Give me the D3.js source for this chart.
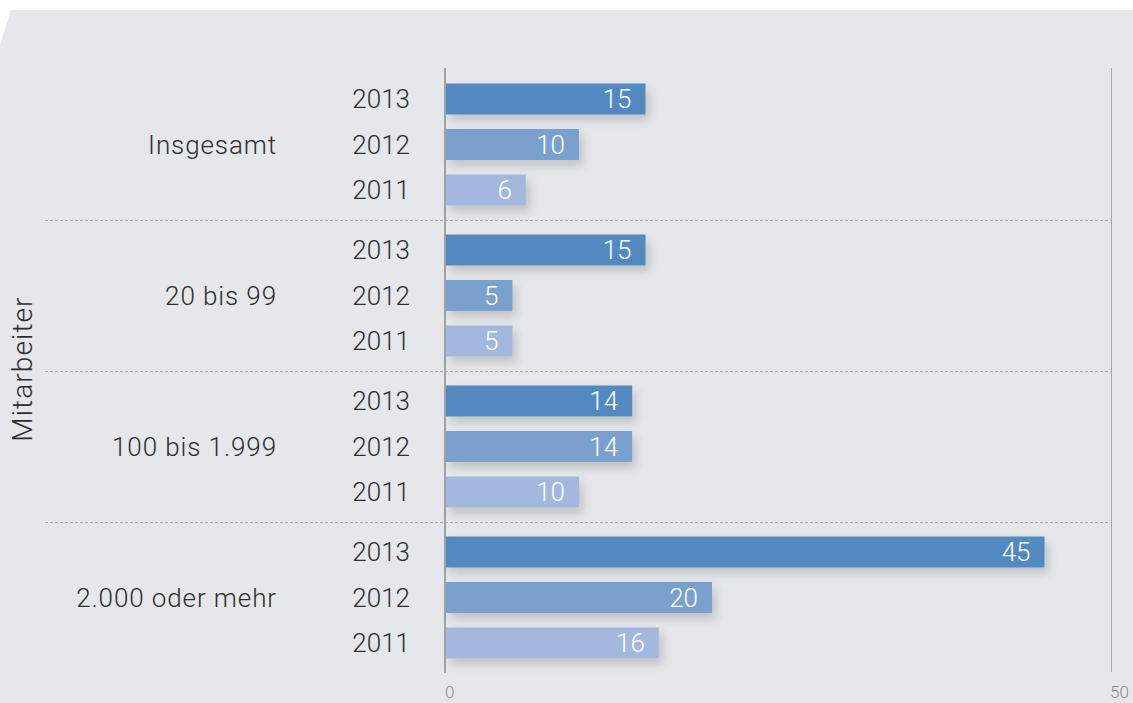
<!DOCTYPE html>
<html><head><meta charset="utf-8">
<script src="https://cdn.jsdelivr.net/npm/d3@7"></script>
<style>
html,body{margin:0;padding:0;background:#fff;}
svg{display:block;font-family:Roboto,"Helvetica Neue",Arial,sans-serif;}
</style></head>
<body>
<svg id="chart" width="1133" height="703"></svg>
<script>
const groups = ["Insgesamt", "20 bis 99", "100 bis 1.999", "2.000 oder mehr"];
const years = ["2013", "2012", "2011"];
const values2013 = [15, 15, 14, 45];
const values2012 = [10, 5, 14, 20];
const values2011 = [6, 5, 10, 16];
const xTicks = [0, 50];
const axisTitle = "Mitarbeiter";
const colors = {"2013": "#5189c0", "2012": "#7aa0ce", "2011": "#a2b8dc"};

const seriesByYear = {"2013": values2013, "2012": values2012, "2011": values2011};
const data = [];
groups.forEach((g, i) => years.forEach(y => data.push({group: g, year: y, value: seriesByYear[y][i]})));

const svg = d3.select("#chart");
const W = 1133, H = 703;

// background with slanted corner
svg.append("path")
  .attr("d", `M11,10 L${W},10 L${W},${H} L0,${H} L0,45 Z`)
  .attr("fill", "#e6e7eb");

const defs = svg.append("defs");
const f = defs.append("filter").attr("id", "shadow").attr("x", "-10%").attr("y", "-40%").attr("width", "130%").attr("height", "200%");
f.append("feDropShadow").attr("dx", 4).attr("dy", 6).attr("stdDeviation", 5).attr("flood-color", "#000").attr("flood-opacity", 0.16);

const x = d3.scaleLinear().domain([0, 50]).range([446, 1111]);
const yGroup = d3.scaleBand().domain(groups).range([69, 673]).padding(0);
const yRow = d3.scalePoint().domain(years).range([0, yGroup.bandwidth()]).padding(0.659);
const barH = 31;

// separators
groups.slice(1).forEach(g => {
  svg.append("line")
    .attr("x1", 45).attr("x2", 1111)
    .attr("y1", yGroup(g) + 0.5).attr("y2", yGroup(g) + 0.5)
    .attr("stroke", "#a8a9ad").attr("stroke-width", 1)
    .attr("stroke-dasharray", "3,2");
});

// right boundary line
svg.append("line")
  .attr("x1", x(50) + 0.5).attr("x2", x(50) + 0.5)
  .attr("y1", 68).attr("y2", 672)
  .attr("stroke", "#a8a9ad").attr("stroke-width", 1);

// bars
svg.append("g").selectAll("rect").data(data).join("rect")
  .attr("x", x(0))
  .attr("y", d => yGroup(d.group) + yRow(d.year) - barH / 2)
  .attr("width", d => x(d.value) - x(0))
  .attr("height", barH)
  .attr("fill", d => colors[d.year])
  .attr("filter", "url(#shadow)");

// value labels
svg.append("g").selectAll("text").data(data).join("text")
  .attr("x", d => x(d.value) - 14)
  .attr("y", d => yGroup(d.group) + yRow(d.year))
  .attr("dy", "0.36em")
  .attr("text-anchor", "end")
  .attr("fill", "#fff")
  .attr("font-size", 26)
  .attr("font-weight", 300)
  .text(d => d.value);

// year labels
svg.append("g").selectAll("text").data(data).join("text")
  .attr("x", 410)
  .attr("y", d => yGroup(d.group) + yRow(d.year))
  .attr("dy", "0.36em")
  .attr("text-anchor", "end")
  .attr("fill", "#2e2e2e")
  .attr("font-size", 26)
  .attr("font-weight", 300)
  .text(d => d.year);

// group labels
svg.append("g").selectAll("text").data(groups).join("text")
  .attr("x", 277)
  .attr("y", g => yGroup(g) + yRow("2012"))
  .attr("dy", "0.36em")
  .attr("text-anchor", "end")
  .attr("fill", "#2e2e2e")
  .attr("font-size", 26)
  .attr("font-weight", 300)
  .attr("letter-spacing", 0.9)
  .text(g => g);

// axis line
svg.append("line")
  .attr("x1", 445).attr("x2", 445)
  .attr("y1", 68).attr("y2", 673)
  .attr("stroke", "#a0a1a5").attr("stroke-width", 2);

// x tick labels
svg.append("g").selectAll("text").data(xTicks).join("text")
  .attr("x", d => x(d) - 1)
  .attr("y", 698)
  .attr("text-anchor", "start")
  .attr("fill", "#8a8a8a")
  .attr("font-size", 17)
  .attr("font-weight", 300)
  .text(d => d);

// y axis title
svg.append("text")
  .attr("transform", "translate(32,369) rotate(-90)")
  .attr("text-anchor", "middle")
  .attr("fill", "#2e2e2e")
  .attr("font-size", 28)
  .attr("font-weight", 300)
  .attr("letter-spacing", 1.1)
  .text(axisTitle);
</script>
</body></html>
